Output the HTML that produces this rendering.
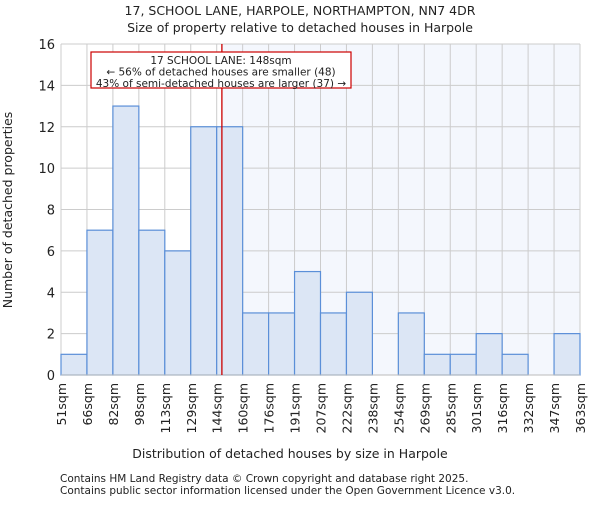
<!DOCTYPE html>
<html><head><meta charset="utf-8"><style>
body{margin:0;background:#fff}
svg text{font-family:"DejaVu Sans","Liberation Sans",sans-serif;fill:#222}
</style></head><body>
<svg id="c" width="600" height="500" xmlns="http://www.w3.org/2000/svg">
<text x="300" y="15" text-anchor="middle" font-size="12.5">17, SCHOOL LANE, HARPOLE, NORTHAMPTON, NN7 4DR</text>
<text x="300" y="32" text-anchor="middle" font-size="12.5">Size of property relative to detached houses in Harpole</text>
<g id="plot"></g>
<text x="290" y="458" text-anchor="middle" font-size="12.5">Distribution of detached houses by size in Harpole</text>
<text transform="translate(12,210) rotate(-90)" text-anchor="middle" font-size="12.5">Number of detached properties</text>
<text x="60" y="482" font-size="10.5">Contains HM Land Registry data © Crown copyright and database right 2025.</text>
<text x="60" y="494" font-size="10.5">Contains public sector information licensed under the Open Government Licence v3.0.</text>
</svg>
<script>
const binLabels=["51sqm","66sqm","82sqm","98sqm","113sqm","129sqm","144sqm","160sqm","176sqm","191sqm","207sqm","222sqm","238sqm","254sqm","269sqm","285sqm","301sqm","316sqm","332sqm","347sqm","363sqm"];
const counts=[1,7,13,7,6,12,12,3,3,5,3,4,0,3,1,1,2,1,0,2];
const yTicks=[0,2,4,6,8,10,12,14,16];
const markerBin=6.2;
const NS="http://www.w3.org/2000/svg";
const g=document.getElementById('plot');
const L=61,R=580,T=44,B=375,yMax=16;
const bw=(R-L)/counts.length;
const xs=i=>L+i*bw;
const ys=v=>B-(v/yMax)*(B-T);
function mk(t,a){const e=document.createElementNS(NS,t);for(const k in a)e.setAttribute(k,a[k]);g.appendChild(e);return e;}
const mx=xs(markerBin);
let e=mk('rect',{x:mx,y:T,width:R-mx,height:B-T,fill:'#f4f7fd'});


yTicks.forEach(v=>{
 let l=mk('line',{x1:L,x2:R,y1:ys(v),y2:ys(v),stroke:'#cccccc','stroke-width':1});
 
 
 let t=mk('text',{x:L-6,y:ys(v)+5,'text-anchor':'end','font-size':'13'});
 t.textContent=v;
 
 
});
binLabels.forEach((s,i)=>{
 let l=mk('line',{x1:xs(i),x2:xs(i),y1:T,y2:B,stroke:'#cccccc','stroke-width':1});
 
 
 let t=mk('text',{transform:`translate(${xs(i)+5},${B+8}) rotate(-90)`,'text-anchor':'end','font-size':'12.5'});
 t.textContent=s;
 
 
});
counts.forEach((c,i)=>{
 if(c<=0)return;
 let r=mk('rect',{x:xs(i),y:ys(c),width:bw,height:B-ys(c),fill:'#dce6f5',stroke:'#5b8fd8','stroke-width':1.2});
 
 
});
e=mk('line',{x1:L,x2:R,y1:B,y2:B,stroke:'#bbbbbb','stroke-width':1});


e=mk('line',{x1:mx,x2:mx,y1:T,y2:B,stroke:'#cc0000','stroke-width':1.3});


e=mk('rect',{x:91,y:52,width:260,height:36,fill:'#fff',stroke:'#cc0000','stroke-width':1.2});


["17 SCHOOL LANE: 148sqm","← 56% of detached houses are smaller (48)","43% of semi-detached houses are larger (37) →"].forEach((s,i)=>{
 let t=mk('text',{x:221,y:64+i*11.5,'text-anchor':'middle','font-size':'10.5'});
 t.textContent=s;
 
 
});
</script>
</body></html>
